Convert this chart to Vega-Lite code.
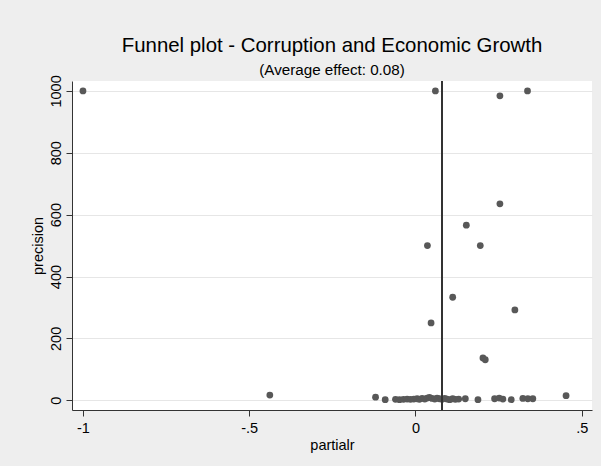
{
  "$schema": "https://vega.github.io/schema/vega-lite/v6.json",
  "autosize": {"type": "none"},
  "width": 520,
  "height": 329,
  "padding": {"left": 72, "top": 81, "right": 9, "bottom": 56},
  "background": "#eeeeee",
  "title": {
    "text": "Funnel plot - Corruption and Economic Growth",
    "subtitle": "(Average effect: 0.08)",
    "anchor": "middle",
    "frame": "group",
    "font": "Liberation Sans",
    "fontSize": 20.4,
    "fontWeight": "normal",
    "color": "#000000",
    "subtitleFont": "Liberation Sans",
    "subtitleFontSize": 15.2,
    "subtitleColor": "#000000",
    "subtitlePadding": 6,
    "offset": -3
  },
  "config": {
    "font": "Liberation Sans",
    "view": {"fill": "white", "stroke": null},
    "axis": {
      "domainColor": "#333333",
      "tickColor": "#333333",
      "tickSize": 6,
      "labelFont": "Liberation Sans",
      "labelFontSize": 14.5,
      "labelColor": "#000000",
      "titleFont": "Liberation Sans",
      "titleFontSize": 14.5,
      "titleFontWeight": "normal",
      "titleColor": "#000000",
      "labelFlush": false,
      "labelOverlap": false
    }
  },
  "data": {
    "values": [
      {"partialr": -1.0, "precision": 1000},
      {"partialr": 0.06, "precision": 1000},
      {"partialr": 0.254, "precision": 984},
      {"partialr": 0.337, "precision": 1000},
      {"partialr": 0.254, "precision": 635},
      {"partialr": 0.153, "precision": 566},
      {"partialr": 0.036, "precision": 500},
      {"partialr": 0.195, "precision": 500},
      {"partialr": 0.112, "precision": 333},
      {"partialr": 0.299, "precision": 292},
      {"partialr": 0.047, "precision": 250},
      {"partialr": 0.203, "precision": 137},
      {"partialr": 0.21, "precision": 131},
      {"partialr": -0.438, "precision": 17},
      {"partialr": -0.12, "precision": 10},
      {"partialr": -0.091, "precision": 2},
      {"partialr": -0.06, "precision": 3},
      {"partialr": -0.048, "precision": 2},
      {"partialr": -0.036, "precision": 3},
      {"partialr": -0.025, "precision": 4},
      {"partialr": -0.015, "precision": 3},
      {"partialr": -0.005, "precision": 4},
      {"partialr": 0.005, "precision": 5},
      {"partialr": 0.012, "precision": 3},
      {"partialr": 0.02, "precision": 6},
      {"partialr": 0.028, "precision": 4},
      {"partialr": 0.035, "precision": 7},
      {"partialr": 0.042, "precision": 9},
      {"partialr": 0.05, "precision": 6},
      {"partialr": 0.058, "precision": 4},
      {"partialr": 0.065, "precision": 7},
      {"partialr": 0.072, "precision": 5},
      {"partialr": 0.08, "precision": 3},
      {"partialr": 0.088, "precision": 6},
      {"partialr": 0.095, "precision": 4},
      {"partialr": 0.103, "precision": 2},
      {"partialr": 0.112, "precision": 5},
      {"partialr": 0.12, "precision": 3},
      {"partialr": 0.13, "precision": 4},
      {"partialr": 0.15, "precision": 5},
      {"partialr": 0.188, "precision": 2},
      {"partialr": 0.238, "precision": 5},
      {"partialr": 0.252, "precision": 7},
      {"partialr": 0.263, "precision": 4},
      {"partialr": 0.288, "precision": 2},
      {"partialr": 0.323, "precision": 6},
      {"partialr": 0.338, "precision": 5},
      {"partialr": 0.353, "precision": 5},
      {"partialr": 0.453, "precision": 15}
    ]
  },
  "layer": [
    {
      "mark": {"type": "circle", "size": 46, "opacity": 1, "color": "#585858"},
      "encoding": {
        "x": {
          "field": "partialr",
          "type": "quantitative",
          "scale": {"domain": [-1.033, 0.531], "nice": false, "zero": false},
          "axis": {
            "title": "partialr",
            "values": [-1, -0.5, 0, 0.5],
            "labelExpr": "replace(toString(datum.value), '0.', '.')",
            "grid": false,
            "labelPadding": 5,
            "titlePadding": 4
          }
        },
        "y": {
          "field": "precision",
          "type": "quantitative",
          "scale": {"domain": [-31.4, 1032], "nice": false, "zero": false},
          "axis": {
            "title": "precision",
            "values": [0, 200, 400, 600, 800, 1000],
            "format": "d",
            "grid": true,
            "gridColor": "#e6e6e6",
            "labelAngle": 270,
            "labelAlign": "center",
            "labelBaseline": "alphabetic",
            "labelPadding": 6,
            "titlePadding": 3
          }
        }
      }
    },
    {
      "mark": {"type": "rule", "color": "#333333", "strokeWidth": 1},
      "encoding": {"x": {"datum": 0.08}}
    }
  ]
}
